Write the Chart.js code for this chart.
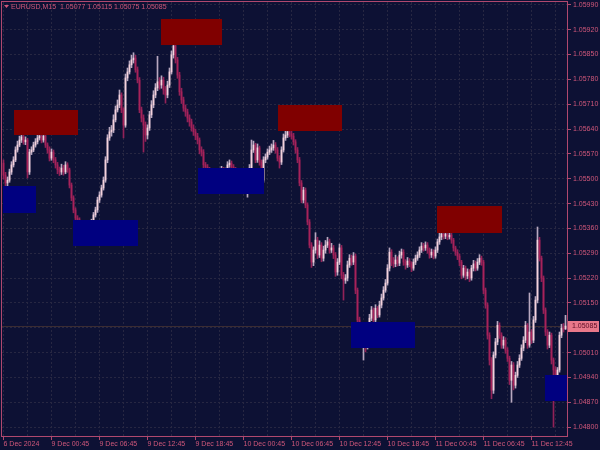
<!DOCTYPE html>
<html>
<head>
<meta charset="utf-8">
<script src="https://cdn.jsdelivr.net/npm/chart.js@4.4.1/dist/chart.umd.min.js"></script>
<style>
  html, body { margin: 0; padding: 0; background: #0d1134; }
  #wrap { width: 600px; height: 450px; }
</style>
</head>
<body>
<div id="wrap"><canvas id="chart" width="600" height="450"></canvas></div>
<script>
const symbolName = 'EURUSD,M15';
const timeLabels = ['6 Dec 2024', '9 Dec 00:45', '9 Dec 06:45', '9 Dec 12:45', '9 Dec 18:45', '10 Dec 00:45',
  '10 Dec 06:45', '10 Dec 12:45', '10 Dec 18:45', '11 Dec 00:45', '11 Dec 06:45', '11 Dec 12:45'];
const priceTicks = [1.04800, 1.04870, 1.04940, 1.05010, 1.05080, 1.05150, 1.05220, 1.05290, 1.05360,
  1.05430, 1.05500, 1.05570, 1.05640, 1.05710, 1.05780, 1.05850, 1.05920, 1.05990];

// M15 bars, open of each bar = close of the one before
const firstOpen = 1.05544;
const closes = [
  1.05510, 1.05488, 1.05496, 1.05519, 1.05539, 1.05553, 1.05581, 1.05595, 1.05609, 1.05618,
  1.05604, 1.05609, 1.05519, 1.05575, 1.05581, 1.05595, 1.05604, 1.05615, 1.05620, 1.05609,
  1.05620, 1.05595, 1.05581, 1.05558, 1.05575, 1.05553, 1.05539, 1.05525, 1.05519, 1.05530,
  1.05519, 1.05539, 1.05525, 1.05482, 1.05446, 1.05412, 1.05389, 1.05384, 1.05372, 1.05361,
  1.05367, 1.05355, 1.05364, 1.05372, 1.05378, 1.05398, 1.05412, 1.05440, 1.05454, 1.05474,
  1.05496, 1.05553, 1.05615, 1.05632, 1.05637, 1.05666, 1.05694, 1.05708, 1.05736, 1.05694,
  1.05651, 1.05784, 1.05801, 1.05821, 1.05835, 1.05840, 1.05807, 1.05778, 1.05694, 1.05671,
  1.05651, 1.05623, 1.05643, 1.05680, 1.05708, 1.05736, 1.05756, 1.05773, 1.05764, 1.05778,
  1.05750, 1.05736, 1.05764, 1.05801, 1.05849, 1.05874, 1.05835, 1.05792, 1.05745, 1.05722,
  1.05699, 1.05688, 1.05671, 1.05660, 1.05643, 1.05632, 1.05620, 1.05609, 1.05581, 1.05575,
  1.05539, 1.05533, 1.05525, 1.05519, 1.05502, 1.05510, 1.05496, 1.05508, 1.05519, 1.05525,
  1.05513, 1.05522, 1.05539, 1.05544, 1.05533, 1.05525, 1.05519, 1.05508, 1.05496, 1.05502,
  1.05510, 1.05491, 1.05502, 1.05530, 1.05581, 1.05595, 1.05553, 1.05587, 1.05547, 1.05496,
  1.05553, 1.05561, 1.05575, 1.05581, 1.05587, 1.05595, 1.05581, 1.05558, 1.05547, 1.05581,
  1.05615, 1.05623, 1.05632, 1.05626, 1.05620, 1.05604, 1.05581, 1.05553, 1.05488, 1.05440,
  1.05468, 1.05426, 1.05378, 1.05313, 1.05265, 1.05299, 1.05327, 1.05285, 1.05313, 1.05276,
  1.05299, 1.05313, 1.05322, 1.05299, 1.05305, 1.05285, 1.05237, 1.05265, 1.05305, 1.05228,
  1.05214, 1.05220, 1.05257, 1.05276, 1.05265, 1.05282, 1.05186, 1.05102, 1.05073, 1.05045,
  1.05051, 1.05031, 1.05059, 1.05107, 1.05130, 1.05102, 1.05135, 1.05116, 1.05144, 1.05164,
  1.05186, 1.05206, 1.05248, 1.05293, 1.05265, 1.05260, 1.05271, 1.05262, 1.05285, 1.05293,
  1.05265, 1.05257, 1.05268, 1.05260, 1.05248, 1.05265, 1.05276, 1.05285, 1.05299, 1.05310,
  1.05305, 1.05313, 1.05299, 1.05285, 1.05293, 1.05282, 1.05299, 1.05322, 1.05336, 1.05344,
  1.05338, 1.05344, 1.05336, 1.05341, 1.05327, 1.05305, 1.05293, 1.05282, 1.05265, 1.05228,
  1.05248, 1.05226, 1.05237, 1.05220, 1.05248, 1.05260, 1.05248, 1.05265, 1.05276, 1.05265,
  1.05186, 1.05144, 1.05059, 1.04989, 1.04904, 1.05003, 1.05040, 1.05087, 1.05059, 1.05031,
  1.05045, 1.05017, 1.04994, 1.04932, 1.04975, 1.04918, 1.04946, 1.04975, 1.04994, 1.05023,
  1.05045, 1.05087, 1.05031, 1.05068, 1.05045, 1.05102, 1.05158, 1.05327, 1.05276, 1.05220,
  1.05130, 1.05068, 1.05031, 1.05059, 1.04989, 1.04961, 1.04946, 1.04961, 1.05059, 1.05079,
  1.05077, 1.05085
];
const highs = [
  1.05553, 1.05518, 1.05505, 1.05527, 1.05548, 1.05562, 1.05590, 1.05606, 1.05620, 1.05630,
  1.05625, 1.05618, 1.05614, 1.05583, 1.05590, 1.05603, 1.05613, 1.05624, 1.05632, 1.05628,
  1.05630, 1.05626, 1.05601, 1.05590, 1.05584, 1.05581, 1.05560, 1.05546, 1.05533, 1.05541,
  1.05538, 1.05548, 1.05545, 1.05530, 1.05488, 1.05452, 1.05418, 1.05396, 1.05390, 1.05378,
  1.05375, 1.05372, 1.05370, 1.05380, 1.05386, 1.05405, 1.05420, 1.05448, 1.05463, 1.05482,
  1.05505, 1.05562, 1.05624, 1.05645, 1.05650, 1.05680, 1.05705, 1.05722, 1.05750, 1.05742,
  1.05700, 1.05795, 1.05812, 1.05832, 1.05848, 1.05855, 1.05848, 1.05815, 1.05785, 1.05702,
  1.05680, 1.05660, 1.05652, 1.05690, 1.05720, 1.05748, 1.05768, 1.05845, 1.05785, 1.05790,
  1.05786, 1.05760, 1.05775, 1.05812, 1.05860, 1.05883, 1.05880, 1.05842, 1.05800, 1.05755,
  1.05730, 1.05708, 1.05696, 1.05680, 1.05668, 1.05652, 1.05640, 1.05628, 1.05615, 1.05590,
  1.05582, 1.05546, 1.05540, 1.05532, 1.05526, 1.05518, 1.05515, 1.05516, 1.05528, 1.05535,
  1.05532, 1.05530, 1.05548, 1.05553, 1.05550, 1.05540, 1.05532, 1.05526, 1.05514, 1.05510,
  1.05518, 1.05516, 1.05510, 1.05540, 1.05609, 1.05606, 1.05600, 1.05598, 1.05592, 1.05553,
  1.05562, 1.05570, 1.05584, 1.05592, 1.05598, 1.05608, 1.05602, 1.05588, 1.05565, 1.05590,
  1.05626, 1.05636, 1.05645, 1.05642, 1.05638, 1.05628, 1.05610, 1.05588, 1.05560, 1.05495,
  1.05476, 1.05474, 1.05432, 1.05385, 1.05320, 1.05308, 1.05348, 1.05335, 1.05325, 1.05320,
  1.05310, 1.05326, 1.05335, 1.05330, 1.05318, 1.05312, 1.05292, 1.05275, 1.05316, 1.05312,
  1.05236, 1.05230, 1.05268, 1.05286, 1.05285, 1.05292, 1.05288, 1.05192, 1.05110, 1.05080,
  1.05062, 1.05058, 1.05066, 1.05118, 1.05140, 1.05136, 1.05145, 1.05140, 1.05155, 1.05175,
  1.05196, 1.05216, 1.05258, 1.05305, 1.05300, 1.05278, 1.05285, 1.05280, 1.05296, 1.05302,
  1.05300, 1.05272, 1.05278, 1.05275, 1.05266, 1.05274, 1.05285, 1.05294, 1.05308, 1.05320,
  1.05318, 1.05322, 1.05320, 1.05305, 1.05302, 1.05300, 1.05308, 1.05330, 1.05346, 1.05352,
  1.05350, 1.05352, 1.05350, 1.05349, 1.05346, 1.05332, 1.05310, 1.05300, 1.05288, 1.05270,
  1.05256, 1.05254, 1.05246, 1.05244, 1.05256, 1.05270, 1.05268, 1.05275, 1.05286, 1.05282,
  1.05270, 1.05192, 1.05150, 1.05066, 1.04996, 1.05012, 1.05050, 1.05098, 1.05094, 1.05066,
  1.05055, 1.05052, 1.05024, 1.05000, 1.04985, 1.04982, 1.04955, 1.04985, 1.05004, 1.05032,
  1.05055, 1.05098, 1.05092, 1.05178, 1.05075, 1.05112, 1.05168, 1.05364, 1.05335, 1.05282,
  1.05226, 1.05136, 1.05075, 1.05068, 1.05065, 1.04995, 1.04970, 1.04968, 1.05068, 1.05090,
  1.05092, 1.05115
];
const lows = [
  1.05499, 1.05479, 1.05480, 1.05490, 1.05512, 1.05533, 1.05548, 1.05575, 1.05590, 1.05602,
  1.05597, 1.05596, 1.05502, 1.05512, 1.05568, 1.05576, 1.05589, 1.05598, 1.05609, 1.05601,
  1.05603, 1.05588, 1.05572, 1.05550, 1.05552, 1.05545, 1.05530, 1.05514, 1.05509, 1.05512,
  1.05510, 1.05514, 1.05518, 1.05474, 1.05438, 1.05404, 1.05381, 1.05375, 1.05362, 1.05350,
  1.05352, 1.05344, 1.05348, 1.05357, 1.05366, 1.05372, 1.05392, 1.05405, 1.05433, 1.05448,
  1.05468, 1.05490, 1.05545, 1.05608, 1.05620, 1.05630, 1.05660, 1.05688, 1.05700, 1.05686,
  1.05615, 1.05645, 1.05776, 1.05795, 1.05813, 1.05826, 1.05800, 1.05770, 1.05686, 1.05660,
  1.05575, 1.05605, 1.05612, 1.05636, 1.05672, 1.05700, 1.05728, 1.05748, 1.05752, 1.05755,
  1.05738, 1.05713, 1.05728, 1.05757, 1.05795, 1.05840, 1.05826, 1.05783, 1.05735, 1.05712,
  1.05690, 1.05676, 1.05660, 1.05648, 1.05634, 1.05622, 1.05610, 1.05598, 1.05570, 1.05564,
  1.05530, 1.05524, 1.05515, 1.05508, 1.05494, 1.05495, 1.05486, 1.05488, 1.05500, 1.05512,
  1.05505, 1.05506, 1.05516, 1.05532, 1.05525, 1.05517, 1.05510, 1.05500, 1.05487, 1.05489,
  1.05495, 1.05482, 1.05448, 1.05496, 1.05524, 1.05574, 1.05545, 1.05546, 1.05538, 1.05488,
  1.05490, 1.05545, 1.05555, 1.05568, 1.05574, 1.05580, 1.05572, 1.05550, 1.05530, 1.05540,
  1.05575, 1.05608, 1.05616, 1.05618, 1.05612, 1.05595, 1.05572, 1.05545, 1.05480, 1.05432,
  1.05432, 1.05418, 1.05370, 1.05305, 1.05250, 1.05255, 1.05290, 1.05275, 1.05278, 1.05266,
  1.05268, 1.05290, 1.05306, 1.05290, 1.05292, 1.05275, 1.05225, 1.05228, 1.05258, 1.05218,
  1.05158, 1.05205, 1.05212, 1.05250, 1.05256, 1.05258, 1.05176, 1.05090, 1.05060, 1.05030,
  1.04989, 1.05012, 1.05020, 1.05050, 1.05100, 1.05094, 1.05096, 1.05108, 1.05110, 1.05136,
  1.05158, 1.05180, 1.05200, 1.05240, 1.05255, 1.05250, 1.05252, 1.05254, 1.05255, 1.05276,
  1.05256, 1.05245, 1.05250, 1.05252, 1.05238, 1.05242, 1.05258, 1.05270, 1.05278, 1.05292,
  1.05296, 1.05298, 1.05290, 1.05276, 1.05278, 1.05274, 1.05276, 1.05292, 1.05315, 1.05328,
  1.05330, 1.05331, 1.05328, 1.05330, 1.05318, 1.05296, 1.05284, 1.05272, 1.05255, 1.05218,
  1.05222, 1.05215, 1.05218, 1.05210, 1.05214, 1.05240, 1.05240, 1.05242, 1.05258, 1.05256,
  1.05176, 1.05135, 1.05048, 1.04975, 1.04880, 1.04895, 1.04995, 1.05032, 1.05050, 1.05022,
  1.05022, 1.05008, 1.04985, 1.04920, 1.04870, 1.04905, 1.04910, 1.04940, 1.04968, 1.04988,
  1.05015, 1.05038, 1.05022, 1.05025, 1.05036, 1.05038, 1.05095, 1.05150, 1.05268, 1.05210,
  1.05120, 1.05058, 1.05020, 1.05024, 1.04978, 1.04800, 1.04936, 1.04936, 1.04955, 1.05052,
  1.05068, 1.05075
];

// supply (red) and demand (blue) zones: bar index range and price range
const zoneKind = ['supply', 'supply', 'supply', 'supply', 'demand', 'demand', 'demand', 'demand', 'demand'];
const zoneFrom = [5, 78.5, 137, 216.5, -0.5, 34.5, 97.5, 173.5, 270.5];
const zoneTo = [37, 109, 169, 249, 16, 67, 130, 205.5, 282];
const zoneTop = [1.05694, 1.05950, 1.05708, 1.05423, 1.05479, 1.05384, 1.05530, 1.05096, 1.04946];
const zoneBottom = [1.05623, 1.05877, 1.05635, 1.05347, 1.05403, 1.05310, 1.05457, 1.05023, 1.04873];

const BARS_PER_LABEL = 24;
const BARS_PER_GRID = 12;
const BG = '#0d1134';
const AXIS = '#b0486e';
const TEXT = '#d0577a';
const GRID = '#272742';
const BULL = '#f4d2dc';
const BEAR = '#a8225a';
const FONT = { family: '"Liberation Sans", Arial, sans-serif', size: 7 };

const opens = closes.map((c, i) => i === 0 ? firstOpen : closes[i - 1]);
const last = closes.length - 1;
const isBull = i => closes[i] >= opens[i];

const wickData = closes.map((c, i) => ({ x: i, y: [lows[i], highs[i]] }));
const bodyData = closes.map((c, i) => ({ x: i, y: [Math.min(opens[i], c), Math.max(opens[i], c)] }));
const barColors = closes.map((c, i) => isBull(i) ? BULL : BEAR);
const wickColors = closes.map((c, i) => isBull(i) ? '#b8a8c0' : '#922258');

const gridBars = [];
for (let b = 0; b < closes.length; b += BARS_PER_GRID) gridBars.push(b);

const mtPlugin = {
  id: 'mt',
  beforeDraw(chart) {
    const ctx = chart.ctx;
    ctx.save();
    ctx.fillStyle = BG;
    ctx.fillRect(0, 0, chart.width, chart.height);
    ctx.restore();
  },
  beforeDatasetsDraw(chart) {
    // bid line
    const { ctx, chartArea: a, scales: { y } } = chart;
    const py = Math.round(y.getPixelForValue(closes[last])) + 0.5;
    ctx.save();
    ctx.strokeStyle = '#3b2c32';
    ctx.lineWidth = 1;
    ctx.beginPath();
    ctx.moveTo(a.left, py);
    ctx.lineTo(a.right, py);
    ctx.stroke();
    ctx.restore();
  },
  afterDatasetsDraw(chart) {
    const { ctx, chartArea: a, scales: { x, y } } = chart;
    ctx.save();
    ctx.beginPath();
    ctx.rect(a.left, a.top, a.right - a.left, a.bottom - a.top);
    ctx.clip();
    zoneKind.forEach((kind, k) => {
      const x1 = Math.round(x.getPixelForValue(zoneFrom[k]));
      const x2 = Math.round(x.getPixelForValue(zoneTo[k]));
      const y1 = Math.round(y.getPixelForValue(zoneTop[k]));
      const y2 = Math.round(y.getPixelForValue(zoneBottom[k]));
      ctx.fillStyle = kind === 'supply' ? '#800000' : '#000080';
      ctx.fillRect(x1, y1, x2 - x1, y2 - y1);
    });
    ctx.restore();
  },
  afterDraw(chart) {
    const { ctx, chartArea: a, scales: { y } } = chart;
    ctx.save();
    // frame
    ctx.strokeStyle = AXIS;
    ctx.lineWidth = 1;
    ctx.strokeRect(a.left - 0.5, a.top - 0.5, a.right - a.left + 1, a.bottom - a.top + 1);

    // current price label
    const py = Math.round(y.getPixelForValue(closes[last]));
    ctx.fillStyle = '#e8788a';
    ctx.fillRect(a.right + 1, py - 5, 31, 11);
    ctx.fillStyle = '#5a0c24';
    ctx.font = `${FONT.size}px ${FONT.family}`;
    ctx.textBaseline = 'middle';
    ctx.textAlign = 'left';
    ctx.fillText(closes[last].toFixed(5), a.right + 5, py + 0.5);

    // header
    ctx.fillStyle = TEXT;
    ctx.beginPath();
    ctx.moveTo(a.left + 2, a.top + 3);
    ctx.lineTo(a.left + 7, a.top + 3);
    ctx.lineTo(a.left + 4.5, a.top + 6);
    ctx.closePath();
    ctx.fill();
    const header = `${symbolName}  ${opens[last].toFixed(5)} ${highs[last].toFixed(5)} ${lows[last].toFixed(5)} ${closes[last].toFixed(5)}`;
    ctx.fillText(header, a.left + 9, a.top + 5);
    ctx.restore();
  }
};

new Chart(document.getElementById('chart'), {
  type: 'bar',
  data: {
    datasets: [
      {
        data: wickData,
        backgroundColor: wickColors,
        barThickness: 1,
        grouped: false,
        borderWidth: 0,
        order: 2
      },
      {
        data: bodyData,
        backgroundColor: barColors,
        barThickness: 1,
        grouped: false,
        borderWidth: 0,
        minBarLength: 1,
        order: 1
      }
    ]
  },
  options: {
    responsive: false,
    animation: false,
    devicePixelRatio: 1,
    layout: { padding: { left: 2, top: 2, right: 0, bottom: 0 } },
    plugins: { legend: { display: false }, tooltip: { enabled: false } },
    scales: {
      x: {
        type: 'linear',
        offset: false,
        min: -0.75,
        max: closes.length - 0.25,
        afterBuildTicks: s => { s.ticks = gridBars.map(v => ({ value: v })); },
        afterFit: s => { s.height = 14; s.paddingLeft = 0; s.paddingRight = 0; },
        ticks: {
          autoSkip: false,
          maxRotation: 0,
          align: 'start',
          padding: 0,
          color: TEXT,
          font: FONT,
          callback: v => v % BARS_PER_LABEL === 0 ? timeLabels[v / BARS_PER_LABEL] : ''
        },
        grid: {
          offset: false,
          color: GRID,
          tickLength: 4,
          tickColor: c => (c.tick && c.tick.value % BARS_PER_LABEL === 0) ? AXIS : 'rgba(0,0,0,0)'
        },
        border: { display: false, dash: [2, 2] }
      },
      y: {
        type: 'linear',
        position: 'right',
        min: 1.04775,
        max: 1.05998,
        afterBuildTicks: s => { s.ticks = priceTicks.map(v => ({ value: v })); },
        afterFit: s => { s.width = 33; s.paddingTop = 0; s.paddingBottom = 0; },
        ticks: {
          padding: 2,
          color: TEXT,
          font: FONT,
          callback: v => v.toFixed(5)
        },
        grid: { color: GRID, tickLength: 4, tickColor: AXIS },
        border: { display: false, dash: [2, 2] }
      }
    }
  },
  plugins: [mtPlugin]
});
</script>
</body>
</html>
